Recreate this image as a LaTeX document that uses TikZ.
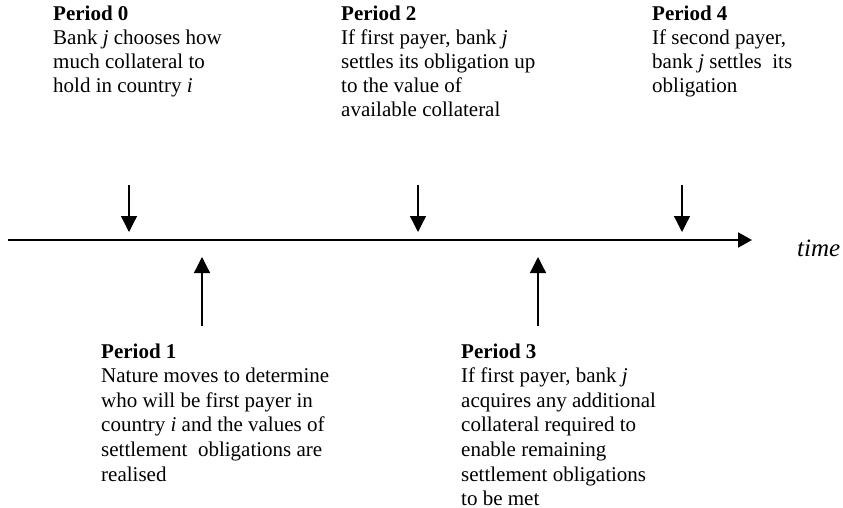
\documentclass[tikz,border=0pt]{standalone}
\usepackage{fontspec}
\setmainfont{Liberation Serif}
\usetikzlibrary{arrows.meta}
\tikzset{
  x=1pt, y=-1pt,
  txt/.style={inner sep=0pt, anchor=base west},
  event/.style={line width=1.3pt, -{Triangle[length=16pt,width=16pt]}},
  axis/.style={line width=2pt, -{Triangle[length=14pt,width=15pt]}},
}
\newcommand{\blk}[2]{\parbox[t]{300pt}{\fontsize{21}{#1}\selectfont\raggedright #2}}
\begin{document}
\begin{tikzpicture}
\useasboundingbox (0,0) rectangle (843,508);
\clip (0,0) rectangle (843,508);
\fill[white] (0,0) rectangle (843,508);
% text blocks
\node[txt] (p0) at (53,21) {\blk{24}{\textbf{Period 0}\\Bank \textit{j} chooses how\\much collateral to\\hold in country \textit{i}}};
\node[txt] (p2) at (341,21) {\blk{24}{\textbf{Period 2}\\If first payer, bank \textit{j}\\settles its obligation up\\to the value of\\available collateral}};
\node[txt] (p4) at (652,21) {\blk{24}{\textbf{Period 4}\\If second payer,\\bank \textit{j} settles\ \ its\\obligation}};
\node[txt] (p1) at (101,358) {\blk{24.6}{\textbf{Period 1}\\Nature moves to determine\\who will be first payer in\\country \textit{i} and the values of\\settlement\ \ obligations are\\realised}};
\node[txt] (p3) at (461,358) {\blk{24.6}{\textbf{Period 3}\\If first payer, bank \textit{j}\\acquires any additional\\collateral required to\\enable remaining\\settlement obligations\\to be met}};
\node[txt] (time) at (797,256) {\fontsize{25}{28}\selectfont\textit{time}};
% timeline
\coordinate (t0) at (8,240);
\coordinate (t1) at (752,240);
\draw[axis] (t0) -- (t1);
% arrows
\coordinate (a0s) at (129,185); \coordinate (a0e) at (129,232);
\coordinate (a2s) at (418,185); \coordinate (a2e) at (418,232);
\coordinate (a4s) at (682,185); \coordinate (a4e) at (682,232);
\coordinate (a1s) at (202,326); \coordinate (a1e) at (202,257);
\coordinate (a3s) at (538,326); \coordinate (a3e) at (538,257);
\draw[event] (a0s) -- (a0e);
\draw[event] (a2s) -- (a2e);
\draw[event] (a4s) -- (a4e);
\draw[event] (a1s) -- (a1e);
\draw[event] (a3s) -- (a3e);
\end{tikzpicture}
\end{document}
